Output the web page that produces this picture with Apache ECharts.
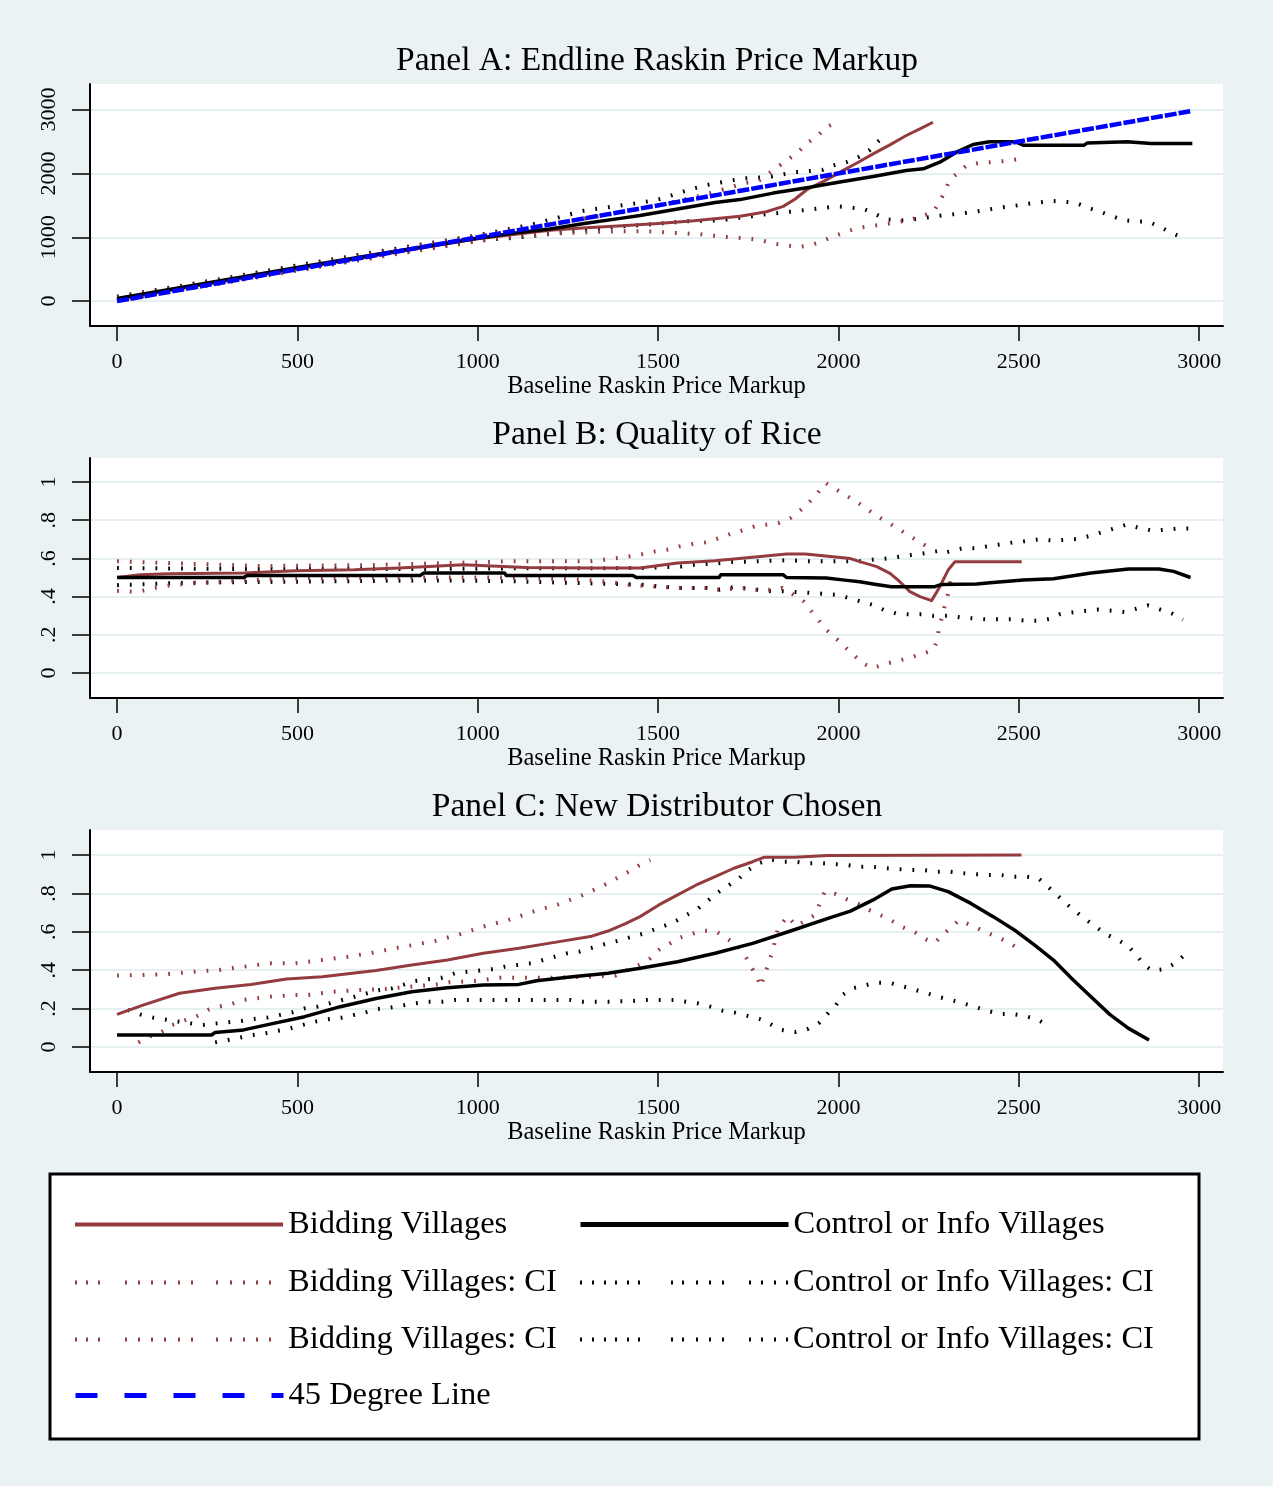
<!DOCTYPE html>
<html><head><meta charset="utf-8">
<script src="https://cdn.jsdelivr.net/npm/echarts@6/dist/echarts.min.js"></script>
<style>html,body{margin:0;padding:0;background:#eaf2f3}#c{width:1273px;height:1486px}</style>
</head><body><div id="c"></div><script>
// ---------- DATA ----------
const xTicks = [0, 500, 1000, 1500, 2000, 2500, 3000];
const yTicksA = [0, 1000, 2000, 3000];
const yTicksBC = [0, 0.2, 0.4, 0.6, 0.8, 1];
const titles = ['Panel A: Endline Raskin Price Markup', 'Panel B: Quality of Rice', 'Panel C: New Distributor Chosen'];
const xName = 'Baseline Raskin Price Markup';

// Panel A
const A_bid = [[0,30],[250,265],[500,505],[750,745],[1000,975],[1100,1045],[1200,1110],[1300,1150],[1400,1180],[1500,1215],[1600,1258],[1727,1330],[1800,1400],[1847,1484],[1880,1600],[1912,1745],[1960,1880],[2004,2020],[2050,2160],[2096,2307],[2140,2440],[2188,2594],[2230,2710],[2262,2802]];
const A_ctrl = [[0,40],[250,285],[500,525],[750,760],[1000,985],[1100,1065],[1200,1130],[1300,1220],[1400,1300],[1450,1340],[1550,1440],[1658,1544],[1727,1590],[1819,1692],[1912,1776],[2004,1865],[2096,1953],[2188,2047],[2235,2073],[2281,2177],[2327,2333],[2373,2453],[2410,2489],[2420,2495],[2492,2495],[2513,2440],[2680,2440],[2690,2478],[2800,2498],[2867,2468],[2981,2468]];
const A_45 = [[0,0],[2975,2975]];
const A_bid_hi = [[0,60],[250,295],[500,540],[750,780],[1000,1030],[1200,1200],[1400,1390],[1550,1560],[1650,1700],[1741,1850],[1778,1880],[1833,2109],[1888,2333],[1912,2473],[1941,2578],[1965,2723],[1996,2802]];
const A_bid_lo = [[0,10],[250,240],[500,480],[750,715],[1000,940],[1100,1010],[1213,1060],[1300,1080],[1400,1095],[1480,1092],[1540,1070],[1612,1050],[1679,1009],[1750,980],[1787,953],[1819,901],[1886,848],[1923,875],[1956,942],[1987,1016],[2052,1146],[2089,1172],[2126,1203],[2198,1269],[2263,1395],[2279,1552],[2295,1708],[2307,1891],[2355,2125],[2387,2161],[2422,2177],[2460,2194],[2494,2220]];
const A_ctrl_hi = [[0,70],[250,310],[500,560],[750,800],[1000,1030],[1150,1200],[1292,1414],[1460,1550],[1502,1596],[1533,1648],[1570,1716],[1601,1768],[1637,1820],[1705,1893],[1742,1924],[1778,1935],[1814,1953],[1879,2020],[1916,2036],[1956,2057],[1985,2125],[2022,2177],[2055,2255],[2085,2359],[2107,2489],[2133,2609]];
const A_ctrl_lo = [[0,15],[250,255],[500,490],[750,725],[1000,950],[1114,998],[1183,1040],[1300,1120],[1400,1170],[1466,1196],[1539,1232],[1575,1248],[1679,1269],[1715,1300],[1752,1321],[1783,1352],[1854,1392],[1893,1418],[1929,1441],[1966,1466],[1995,1486],[2034,1464],[2069,1445],[2096,1380],[2133,1280],[2166,1264],[2198,1272],[2235,1302],[2274,1332],[2311,1356],[2344,1376],[2378,1402],[2412,1431],[2445,1464],[2481,1487],[2518,1518],[2554,1544],[2590,1570],[2656,1544],[2690,1466],[2723,1404],[2757,1336],[2789,1269],[2823,1248],[2858,1248],[2890,1165],[2921,1076],[2952,998]];

// Panel B
const B_bid = [[0,0.50],[64,0.515],[144,0.52],[351,0.524],[495,0.536],[658,0.541],[782,0.55],[960,0.567],[1134,0.553],[1300,0.55],[1450,0.55],[1554,0.576],[1658,0.588],[1762,0.606],[1856,0.623],[1908,0.623],[1971,0.611],[2033,0.599],[2059,0.583],[2106,0.557],[2143,0.522],[2170,0.478],[2198,0.426],[2226,0.4],[2258,0.379],[2281,0.452],[2304,0.539],[2323,0.583],[2508,0.583]];
const B_ctrl = [[0,0.50],[351,0.50],[361,0.511],[841,0.511],[851,0.524],[1074,0.524],[1079,0.511],[1430,0.511],[1440,0.50],[1669,0.50],[1674,0.515],[1846,0.515],[1856,0.50],[1966,0.497],[2023,0.485],[2059,0.478],[2100,0.465],[2147,0.452],[2267,0.452],[2286,0.464],[2383,0.466],[2420,0.473],[2512,0.487],[2596,0.494],[2700,0.524],[2804,0.545],[2888,0.545],[2929,0.532],[2976,0.50]];
const B_bid_hi = [[0,0.585],[150,0.575],[400,0.56],[700,0.565],[900,0.575],[1100,0.585],[1312,0.585],[1350,0.593],[1386,0.602],[1420,0.611],[1455,0.622],[1492,0.637],[1528,0.646],[1559,0.663],[1596,0.675],[1632,0.684],[1664,0.703],[1700,0.728],[1731,0.745],[1768,0.768],[1833,0.785],[1867,0.812],[1896,0.855],[1921,0.899],[1942,0.942],[1964,0.995],[2021,0.93],[2052,0.894],[2080,0.857],[2110,0.818],[2138,0.787],[2168,0.752],[2198,0.717],[2258,0.648]];
const B_bid_lo = [[0,0.43],[60,0.425],[100,0.445],[150,0.46],[215,0.47],[300,0.48],[470,0.494],[800,0.5],[1100,0.5],[1282,0.489],[1351,0.48],[1386,0.471],[1420,0.462],[1455,0.457],[1497,0.452],[1565,0.445],[1637,0.445],[1674,0.436],[1740,0.445],[1773,0.436],[1809,0.436],[1844,0.445],[1872,0.414],[1903,0.375],[1921,0.332],[1945,0.276],[1964,0.23],[1990,0.187],[2018,0.136],[2044,0.091],[2067,0.052],[2094,0.025],[2126,0.046],[2163,0.063],[2196,0.08],[2230,0.099],[2263,0.12],[2274,0.173],[2279,0.242],[2288,0.298],[2295,0.356],[2304,0.417],[2311,0.487]];
const B_ctrl_hi = [[0,0.55],[300,0.545],[600,0.545],[900,0.545],[1100,0.548],[1300,0.548],[1460,0.55],[1565,0.558],[1601,0.567],[1637,0.571],[1674,0.576],[1705,0.581],[1778,0.585],[1815,0.588],[1851,0.59],[1887,0.588],[1924,0.585],[2065,0.585],[2101,0.595],[2138,0.6],[2168,0.609],[2202,0.618],[2239,0.627],[2276,0.639],[2288,0.627],[2344,0.653],[2381,0.653],[2418,0.665],[2455,0.675],[2486,0.684],[2521,0.691],[2556,0.7],[2596,0.693],[2663,0.702],[2700,0.719],[2731,0.738],[2768,0.759],[2799,0.777],[2835,0.759],[2872,0.745],[2940,0.756],[2976,0.756]];
const B_ctrl_lo = [[0,0.46],[150,0.47],[300,0.475],[600,0.48],[900,0.485],[1100,0.48],[1300,0.47],[1460,0.462],[1497,0.454],[1565,0.445],[1636,0.445],[1671,0.436],[1708,0.449],[1775,0.436],[1815,0.428],[1846,0.428],[1885,0.424],[1924,0.419],[1992,0.41],[2028,0.393],[2096,0.356],[2126,0.33],[2159,0.312],[2193,0.307],[2230,0.307],[2261,0.3],[2304,0.3],[2338,0.291],[2409,0.281],[2443,0.281],[2480,0.281],[2517,0.274],[2553,0.274],[2586,0.284],[2615,0.309],[2654,0.319],[2719,0.332],[2757,0.326],[2794,0.319],[2827,0.337],[2859,0.354],[2927,0.309],[2955,0.279]];

// Panel C
const C_bid = [[0,0.17],[74,0.219],[173,0.28],[272,0.306],[371,0.326],[470,0.354],[569,0.366],[718,0.398],[817,0.427],[916,0.453],[1015,0.488],[1114,0.514],[1213,0.545],[1312,0.575],[1361,0.604],[1411,0.644],[1450,0.679],[1502,0.74],[1554,0.792],[1606,0.844],[1658,0.887],[1710,0.931],[1762,0.965],[1793,0.988],[1877,0.988],[1882,0.997],[1971,0.997],[1976,1.0],[2507,1.0]];
const C_ctrl = [[0,0.0625],[262,0.0625],[272,0.076],[351,0.089],[421,0.118],[520,0.158],[619,0.21],[718,0.253],[817,0.288],[916,0.309],[1015,0.323],[1114,0.326],[1163,0.345],[1262,0.366],[1361,0.384],[1450,0.41],[1554,0.444],[1658,0.488],[1762,0.54],[1867,0.604],[1971,0.67],[2033,0.708],[2096,0.766],[2148,0.823],[2200,0.84],[2252,0.839],[2304,0.809],[2367,0.748],[2429,0.679],[2492,0.604],[2544,0.531],[2596,0.453],[2648,0.354],[2700,0.262],[2752,0.17],[2804,0.097],[2861,0.036]];
const C_bid_hi = [[0,0.372],[70,0.375],[140,0.38],[213,0.392],[282,0.401],[351,0.418],[421,0.436],[495,0.436],[569,0.453],[639,0.47],[708,0.491],[778,0.517],[812,0.528],[881,0.552],[950,0.587],[1015,0.627],[1084,0.661],[1153,0.705],[1223,0.743],[1287,0.788],[1351,0.844],[1411,0.905],[1446,0.944],[1478,0.974]];
const C_bid_lo = [[59,0.024],[89,0.054],[124,0.08],[153,0.115],[223,0.163],[252,0.193],[282,0.21],[317,0.224],[351,0.245],[421,0.262],[495,0.271],[530,0.271],[599,0.288],[673,0.297],[743,0.302],[812,0.314],[886,0.326],[921,0.337],[990,0.344],[1064,0.361],[1203,0.361],[1312,0.366],[1381,0.372],[1446,0.427],[1478,0.462],[1502,0.505],[1559,0.569],[1625,0.607],[1662,0.6],[1694,0.561],[1722,0.526],[1743,0.47],[1759,0.415],[1775,0.363],[1784,0.314],[1805,0.431],[1817,0.496],[1831,0.609],[1858,0.682],[1884,0.63],[1935,0.688],[1962,0.809],[1993,0.797],[2024,0.769],[2055,0.745],[2085,0.714],[2115,0.688],[2145,0.661],[2179,0.623],[2212,0.597],[2242,0.561],[2267,0.543],[2290,0.587],[2335,0.661],[2433,0.578],[2464,0.552],[2498,0.514]];
const C_ctrl_hi = [[30,0.193],[64,0.17],[99,0.153],[203,0.123],[238,0.115],[277,0.123],[342,0.135],[381,0.146],[416,0.153],[485,0.18],[520,0.201],[555,0.21],[589,0.227],[624,0.245],[659,0.262],[693,0.28],[728,0.297],[763,0.306],[797,0.326],[827,0.344],[867,0.354],[901,0.361],[936,0.384],[970,0.392],[1005,0.398],[1045,0.406],[1074,0.418],[1109,0.427],[1149,0.436],[1213,0.47],[1248,0.488],[1282,0.497],[1317,0.517],[1351,0.535],[1386,0.552],[1456,0.589],[1523,0.635],[1554,0.661],[1611,0.722],[1667,0.806],[1725,0.879],[1750,0.922],[1780,0.957],[1808,0.978],[1845,0.965],[1882,0.965],[1916,0.957],[1953,0.957],[2022,0.948],[2057,0.939],[2094,0.939],[2131,0.931],[2198,0.922],[2235,0.922],[2272,0.913],[2309,0.913],[2346,0.905],[2412,0.896],[2449,0.896],[2486,0.887],[2521,0.887],[2554,0.879],[2604,0.795],[2630,0.748],[2658,0.705],[2688,0.661],[2713,0.627],[2742,0.587],[2771,0.561],[2800,0.531],[2826,0.479],[2847,0.427],[2869,0.398],[2907,0.406],[2935,0.439],[2961,0.483]];
const C_ctrl_lo = [[272,0.024],[307,0.036],[376,0.0625],[411,0.071],[480,0.097],[515,0.115],[550,0.132],[584,0.144],[624,0.153],[688,0.18],[723,0.198],[762,0.207],[827,0.227],[862,0.236],[901,0.236],[936,0.245],[1257,0.245],[1292,0.236],[1366,0.236],[1431,0.24],[1470,0.245],[1544,0.245],[1611,0.227],[1645,0.21],[1679,0.189],[1713,0.179],[1750,0.161],[1784,0.144],[1812,0.118],[1842,0.089],[1879,0.078],[1913,0.092],[1947,0.127],[1969,0.172],[1992,0.215],[2011,0.271],[2039,0.306],[2105,0.335],[2140,0.335],[2209,0.3],[2276,0.262],[2311,0.245],[2346,0.228],[2381,0.207],[2412,0.189],[2449,0.172],[2484,0.172],[2517,0.161],[2551,0.144],[2583,0.109]];

// ---------- STYLE ----------
const F = 'Liberation Serif';
const RED = '#943b40', BLACK = '#000000', BLUE = '#0000ff';
const GRIDC = '#e6eff1';
const N_BID = 'Bidding Villages', N_CTRL = 'Control or Info Villages';
const N_BID_CI = 'Bidding Villages: CI', N_CTRL_CI = 'Control or Info Villages: CI', N_45 = '45 Degree Line';
const DOT = [1.8, 11];
const DOT_LEG_BID = [2,9,2,10,2,25,2,11,2,11,2,11,2,12,2,11,2,23,2,12,2,11,2,11,2,11,2,12];
const DOT_LEG_CTRL = [2,10,2,10,2,9,2,10,2,9,2,31,2,9,2,12,2,11,2,11,2,25,2,10,2,11,2,10,2,2];

const grids = [
  {left: 90, right: 50, top: 84, height: 242},
  {left: 90, right: 50, top: 458, height: 240},
  {left: 90, right: 50, top: 830, height: 242}
].map(g => Object.assign({show: true, backgroundColor: '#ffffff', borderWidth: 0}, g));

const yRanges = [[-390, 3401], [-0.1309, 1.1257], [-0.1302, 1.1302]];
const fracFmt = v => { const r = Math.round(v * 10) / 10; return r === 0 ? '0' : r === 1 ? '1' : String(r).replace(/^0/, ''); };

const xAxes = [0, 1, 2].map(i => ({
  type: 'value', gridIndex: i, min: -75, max: 3066,
  axisLine: {show: true, onZero: false, lineStyle: {color: '#000', width: 2}},
  axisTick: {show: true, length: 15, customValues: xTicks, lineStyle: {color: '#000', width: 1.5}},
  axisLabel: {customValues: xTicks, margin: 25, fontFamily: F, fontSize: 22, color: '#000',
    formatter: v => String(Math.round(v))},
  splitLine: {show: false},
  name: xName, nameLocation: 'middle', nameGap: 48,
  nameTextStyle: {fontFamily: F, fontSize: 24.5, color: '#000'}
}));
const yAxes = [0, 1, 2].map(i => ({
  type: 'value', gridIndex: i, min: yRanges[i][0], max: yRanges[i][1],
  axisLine: {show: true, onZero: false, lineStyle: {color: '#000', width: 2}},
  axisTick: {show: true, length: 18, customValues: i === 0 ? yTicksA : yTicksBC, lineStyle: {color: '#000', width: 1.5}},
  axisLabel: {customValues: i === 0 ? yTicksA : yTicksBC, rotate: 90, margin: 30, fontFamily: F, fontSize: 22, color: '#000',
    formatter: i === 0 ? (v => String(Math.round(v))) : fracFmt},
  splitLine: {show: true, lineStyle: {color: GRIDC, width: 2}}
}));

function ln(name, data, p, color, width, type, z) {
  return {type: 'line', name, data, xAxisIndex: p, yAxisIndex: p, symbol: 'none', showSymbol: false,
    animation: false, silent: true, z: z,
    lineStyle: {color, width, type: type || 'solid', cap: 'butt', join: 'round'},
    itemStyle: {color, opacity: 0}};
}
const CIW = 4;
const series = [
  ln(N_CTRL_CI, A_ctrl_hi, 0, BLACK, CIW, DOT, 2), ln(N_CTRL_CI, A_ctrl_lo, 0, BLACK, CIW, DOT, 2),
  ln(N_BID_CI, A_bid_hi, 0, RED, CIW, DOT, 2), ln(N_BID_CI, A_bid_lo, 0, RED, CIW, DOT, 2),
  ln(N_BID, A_bid, 0, RED, 3, 'solid', 3), ln(N_CTRL, A_ctrl, 0, BLACK, 3.5, 'solid', 4),
  ln(N_45, A_45, 0, BLUE, 4.5, [12, 2], 5),

  ln(N_CTRL_CI, B_ctrl_hi, 1, BLACK, CIW, DOT, 2), ln(N_CTRL_CI, B_ctrl_lo, 1, BLACK, CIW, DOT, 2),
  ln(N_BID_CI, B_bid_hi, 1, RED, CIW, DOT, 2), ln(N_BID_CI, B_bid_lo, 1, RED, CIW, DOT, 2),
  ln(N_BID, B_bid, 1, RED, 3, 'solid', 3), ln(N_CTRL, B_ctrl, 1, BLACK, 3.5, 'solid', 4),

  ln(N_CTRL_CI, C_ctrl_hi, 2, BLACK, CIW, DOT, 2), ln(N_CTRL_CI, C_ctrl_lo, 2, BLACK, CIW, DOT, 2),
  ln(N_BID_CI, C_bid_hi, 2, RED, CIW, DOT, 2), ln(N_BID_CI, C_bid_lo, 2, RED, CIW, DOT, 2),
  ln(N_BID, C_bid, 2, RED, 3, 'solid', 3), ln(N_CTRL, C_ctrl, 2, BLACK, 3.5, 'solid', 4)
];

// legend entries: [name, left, rowCenterY, lineStyle]
const rowY = [1222, 1280, 1337, 1393];
const legendDefs = [
  [N_BID, 73, rowY[0], {color: RED, width: 4, type: 'solid'}],
  [N_CTRL, 578, rowY[0], {color: BLACK, width: 5, type: 'solid'}],
  [N_BID_CI, 73, rowY[1], {color: RED, width: 4, type: DOT_LEG_BID}],
  [N_CTRL_CI, 578, rowY[1], {color: BLACK, width: 4, type: DOT_LEG_CTRL}],
  [N_BID_CI, 73, rowY[2], {color: RED, width: 4, type: DOT_LEG_BID}],
  [N_CTRL_CI, 578, rowY[2], {color: BLACK, width: 4, type: DOT_LEG_CTRL}],
  [N_45, 73, rowY[3], {color: BLUE, width: 5, type: [22, 27]}]
];
const legends = legendDefs.map(d => ({
  data: [d[0]], left: d[1], top: d[2] - 14, orient: 'horizontal', padding: 0,
  itemWidth: 208, itemHeight: 10, selectedMode: false, z: 10,
  itemStyle: {opacity: 0},
  lineStyle: Object.assign({cap: 'butt'}, d[3]),
  textStyle: {fontFamily: F, fontSize: 32.5, color: '#000'}
}));

const titleY = [61, 435, 807];
const graphic = titles.map((t, i) => ({
  type: 'text', x: 657, y: titleY[i], z: 5,
  style: {text: t, fontFamily: F, fontSize: 33.5, fill: '#000', align: 'center', verticalAlign: 'middle'}
})).concat([{
  type: 'rect', z: 0, shape: {x: 50, y: 1174, width: 1149, height: 265},
  style: {fill: '#ffffff', stroke: '#000', lineWidth: 3}
}]);

const chart = echarts.init(document.getElementById('c'), null, {renderer: 'canvas'});
chart.setOption({
  backgroundColor: '#eaf2f3',
  animation: false,
  grid: grids, xAxis: xAxes, yAxis: yAxes,
  legend: legends,
  graphic: graphic,
  series: series
});
</script></body></html>
